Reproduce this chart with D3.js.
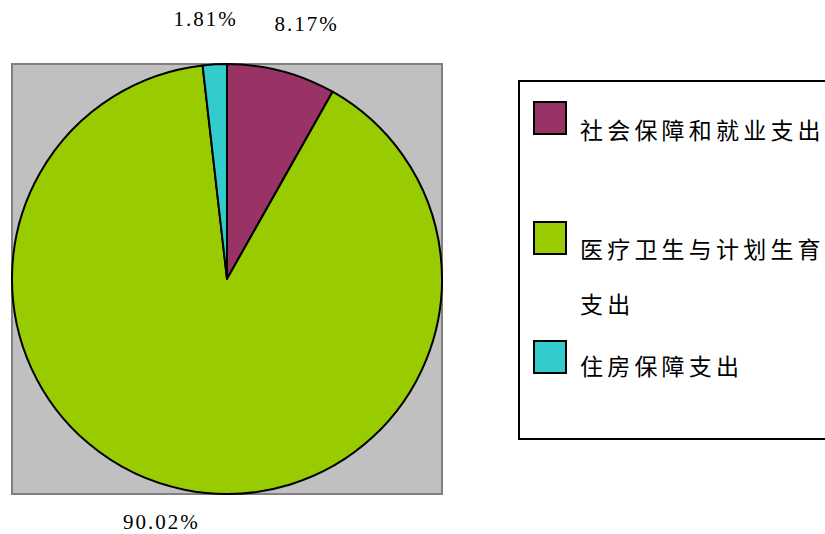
<!DOCTYPE html>
<html><head><meta charset="utf-8">
<script src="https://cdn.jsdelivr.net/npm/d3@7"></script>
<style>body{margin:0;background:#fff}svg{display:block}</style>
</head><body>
<svg id="c" width="825" height="534"></svg>
<script>
const categories = ["社会保障和就业支出", "医疗卫生与计划生育支出", "住房保障支出"];
const values = [8.17, 90.02, 1.81];
const valueLabels = ["8.17%", "90.02%", "1.81%"];
const colors = ["#993366", "#99CC00", "#33CCCC"];

const svg = d3.select("#c");
const cx = 227, cy = 279, r = 215;

svg.append("rect").attr("x", 12).attr("y", 64).attr("width", 430).attr("height", 430)
  .attr("fill", "#C0C0C0").attr("stroke", "#808080").attr("stroke-width", 2);

const pie = d3.pie().sort(null).value(d => d)(values);
const arc = d3.arc().innerRadius(0).outerRadius(r);
const g = svg.append("g").attr("transform", `translate(${cx},${cy})`);
g.selectAll("path").data(pie).join("path")
  .attr("d", arc).attr("fill", (d, i) => colors[i])
  .attr("stroke", "#000").attr("stroke-width", 2).attr("stroke-linejoin", "round");

// data labels
const labelArc = d3.arc().innerRadius(255).outerRadius(255);
const nudge = [[15, -8], [-15, -7], [-7, -5]];
g.selectAll("text.lbl").data(pie).join("text").attr("class", "lbl")
  .attr("x", (d, i) => labelArc.centroid(d)[0] + nudge[i][0])
  .attr("y", (d, i) => labelArc.centroid(d)[1] + nudge[i][1])
  .attr("text-anchor", "middle").attr("dominant-baseline", "central")
  .attr("font-family", "'Liberation Serif', 'DejaVu Serif', serif")
  .attr("font-size", 21).attr("letter-spacing", 2)
  .attr("fill", "#000").text((d, i) => valueLabels[i]);

// legend
svg.append("rect").attr("x", 519).attr("y", 81).attr("width", 320).attr("height", 358)
  .attr("fill", "#fff").attr("stroke", "#000").attr("stroke-width", 2);

const swatchY = [102, 222, 341];
const lineSets = [["社会保障和就业支出"], ["医疗卫生与计划生育", "支出"], ["住房保障支出"]];
const textY = [[129], [248, 303], [365]];
categories.forEach((c, i) => {
  svg.append("rect").attr("x", 534).attr("y", swatchY[i]).attr("width", 32).attr("height", 32)
    .attr("fill", colors[i]).attr("stroke", "#000").attr("stroke-width", 2);
  lineSets[i].forEach((t, j) => {
    svg.append("text").attr("x", 580).attr("y", textY[i][j])
      .attr("dominant-baseline", "central")
      .attr("font-family", "'Noto Sans CJK SC', sans-serif")
      .attr("font-size", 23).attr("letter-spacing", 4.2)
      .attr("fill", "#000").text(t);
  });
});
</script>
</body></html>
